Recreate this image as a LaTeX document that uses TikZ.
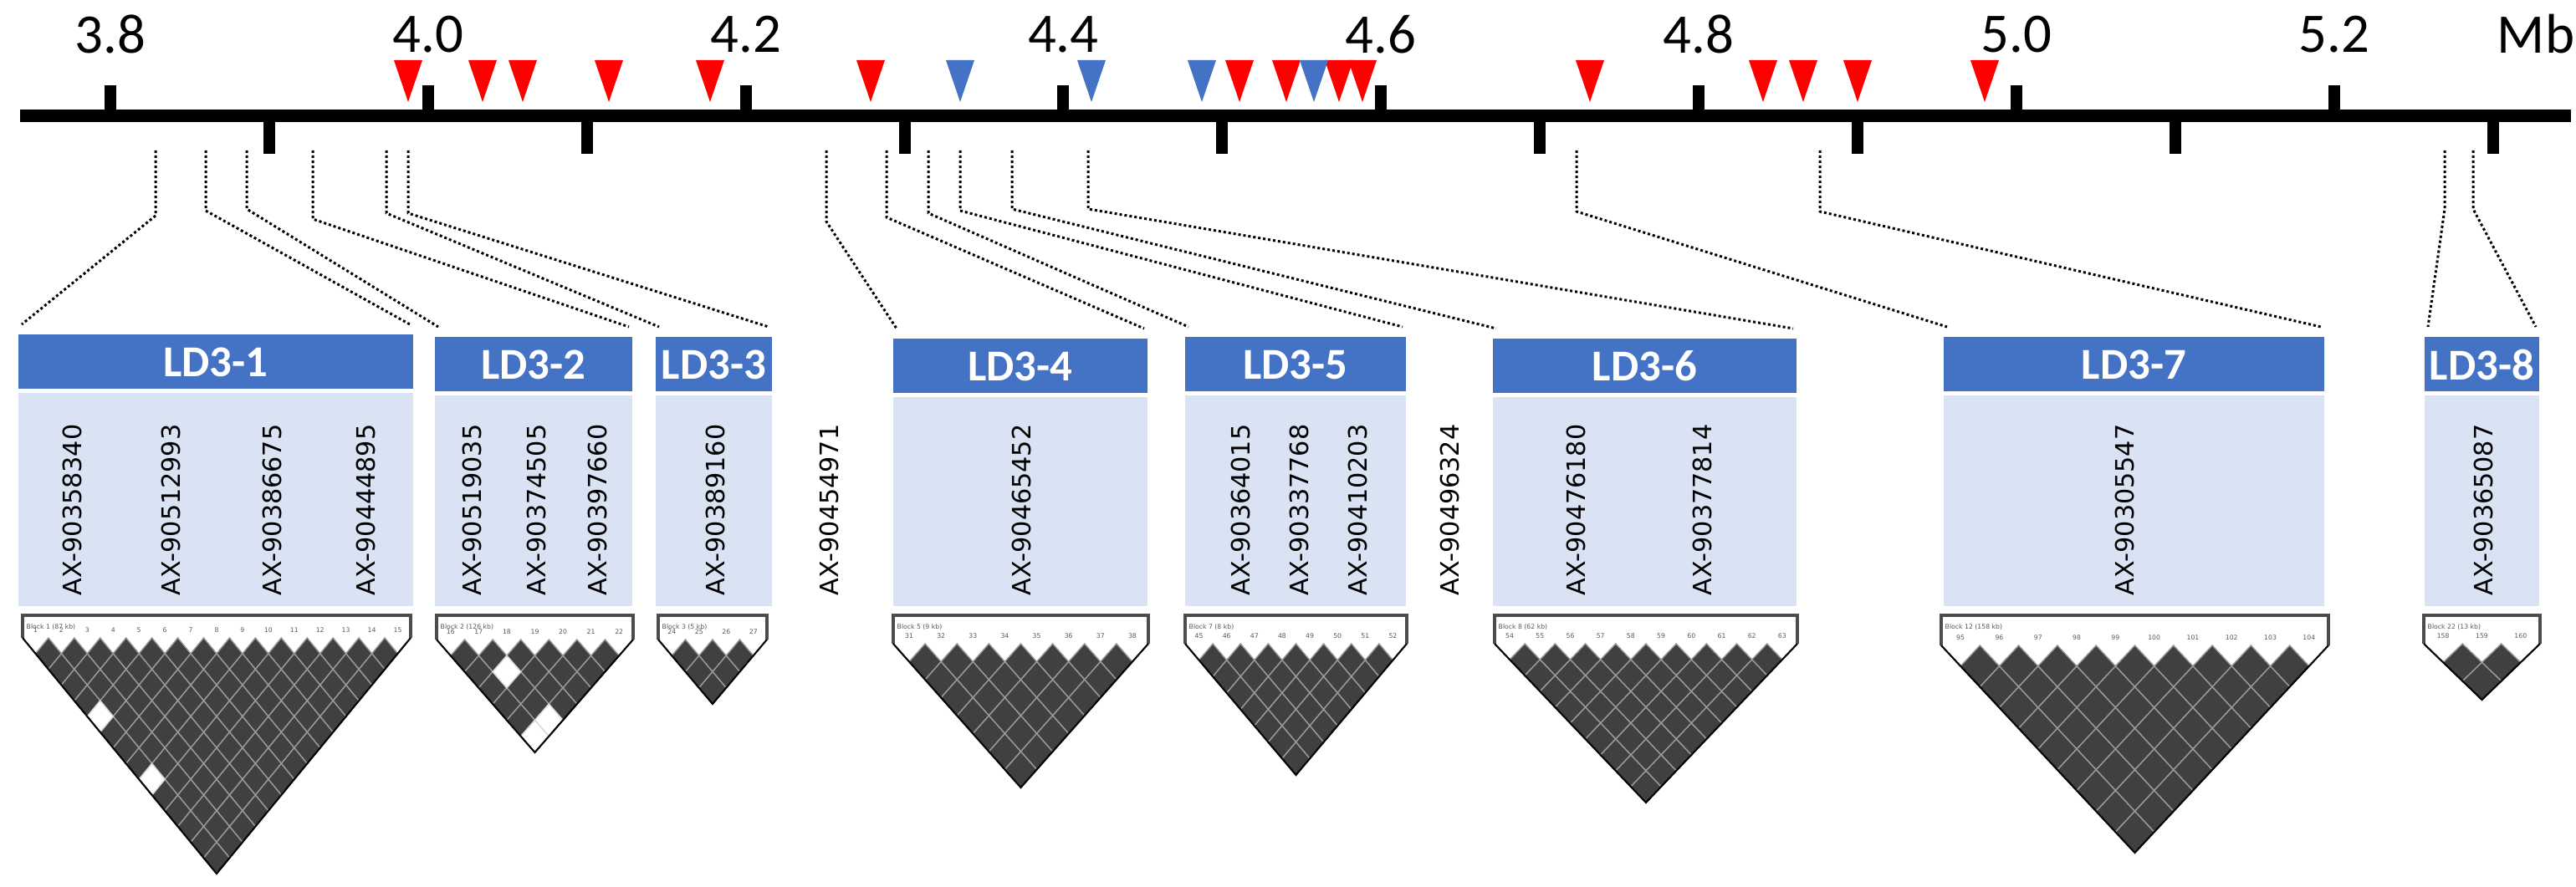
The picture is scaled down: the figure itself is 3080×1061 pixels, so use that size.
\documentclass[tikz,border=0pt]{standalone}
\usepackage{fontspec}
\setmainfont{DejaVu Sans}
\newfontfamily\calf{Carlito}
\definecolor{hdrblue}{HTML}{4472C4}
\definecolor{lightblue}{HTML}{DAE3F3}
\definecolor{ldgray}{HTML}{404040}
\definecolor{mkred}{HTML}{FF0000}
\newcommand\mypx{0.2845pt}
\tikzset{
  axisln/.style={line width=15*\mypx, black},
  tickln/.style={line width=14*\mypx, black},
  ticklab/.style={font=\calf\fontsize{19}{19}\selectfont, inner sep=0pt},
  hdrtext/.style={font=\calf\bfseries\fontsize{15}{15}\selectfont, text=white, inner sep=0pt},
  snp/.style={font=\fontsize{8.6}{8.6}\selectfont, rotate=90, anchor=west, inner sep=0pt},
  conn/.style={line width=3*\mypx, dash pattern=on 3*\mypx off 3*\mypx, black},
  ldcell/.style={fill=ldgray, draw=gray!80, line width=0.4pt},
  ldnum/.style={font=\fontsize{2.2}{2.2}\selectfont, inner sep=0pt, text=gray!70!black},
}
% marker triangle: x, colour
\newcommand\mk[2]{\fill[#2] (#1-17,72) -- (#1+17,72) -- (#1,122) -- cycle;}
% LD plot: L R T S A n firstnum label whites
\newcommand\ldplot[9]{%
  \pgfmathsetmacro\ldw{(#2-#1)/#6}%
  \pgfmathsetmacro\ldh{(#5-#4)/#6}%
  \pgfmathtruncatemacro\ldm{#6-1}%
  \fill[white] (#1,#3) rectangle (#2,#4);
  \foreach \d in {1,...,\ldm}{%
    \pgfmathtruncatemacro\ldk{#6-\d}%
    \foreach \i in {1,...,\ldk}{%
      \path[ldcell] ({#1+\ldw/2+(\i-1)*\ldw+\d*\ldw/2},{#4+\d*\ldh}) +(0,-\ldh) -- +(\ldw/2,0) -- +(0,\ldh) -- +(-\ldw/2,0) -- cycle;
    }
  }
  \foreach \i/\d in {#9}{%
    \path[fill=white, draw=gray!30, line width=0.4pt] ({#1+\ldw/2+(\i-1)*\ldw+\d*\ldw/2},{#4+\d*\ldh}) +(0,-\ldh) -- +(\ldw/2,0) -- +(0,\ldh) -- +(-\ldw/2,0) -- cycle;
  }
  \foreach \i in {1,...,#6}{%
    \pgfmathtruncatemacro\ldn{#7+\i-1}%
    \node[ldnum] at ({#1+\ldw/2+(\i-1)*\ldw},{#4-9}) {\ldn};
  }
  \node[ldnum, anchor=west] at (#1+4,#3+14) {#8};
  \draw[gray!60!black, line width=1.2pt] (#1,#4) -- (#1,#3) -- (#2,#3) -- (#2,#4);
  \draw[black, line width=0.6pt] (#1,#4) -- ({(#1+#2)/2},#5) -- (#2,#4);
}
\begin{document}
\begin{tikzpicture}[x=0.01cm,y=-0.01cm]
\useasboundingbox (0,0) rectangle (3080,1061);
% axis
\draw[axisln] (24,139) -- (3074,139);
\foreach \v/\lab in {3.8/3.8,4.0/4.0,4.2/4.2,4.4/4.4,4.6/4.6,4.8/4.8,5.0/5.0,5.2/5.2}{
  \pgfmathsetmacro\xx{132+(\v-3.8)*1899}
  \draw[tickln] (\xx,102) -- (\xx,139);
  \node[ticklab] at (\xx,41) {\lab};
}
\foreach \v in {3.9,4.1,4.3,4.5,4.7,4.9,5.1,5.3}{
  \pgfmathsetmacro\xx{132+(\v-3.8)*1899}
  \draw[tickln] (\xx,139) -- (\xx,184);
}
\node[ticklab] (mb) at (3032,41) {Mb};
% markers
\foreach \x in {488,577,625,728,849,1041,1482,1538,1601,1629,1901,2108,2156,2221,2373}{\mk{\x}{mkred}}
\foreach \x in {1148,1305,1437,1571}{\mk{\x}{hdrblue}}
% headers and light boxes
\foreach \nm/\l/\r/\t/\lab in {1/22/494/400/LD3-1, 2/520/756/403/LD3-2, 3/784/923/403/LD3-3, 4/1068/1372/405/LD3-4, 5/1417/1681/403/LD3-5, 6/1785/2148/405/LD3-6, 7/2324/2779/403/LD3-7, 8/2899/3036/403/LD3-8}{
  \fill[lightblue] (\l,\t+70) rectangle (\r,725);
  \fill[hdrblue] (\l,\t) rectangle (\r,\t+65);
  \node[hdrtext] (h\nm) at ({(\l+\r)/2},\t+33) {\lab};
  \coordinate (h\nm l) at (\l+4,\t-12);
  \coordinate (h\nm r) at (\r-4,\t-12);
}
% SNP labels
\foreach \x/\lab in {86/AX-90358340, 204/AX-90512993, 325/AX-90386675, 437/AX-90444895,
  564/AX-90519035, 641/AX-90374505, 714/AX-90397660, 855/AX-90389160,
  991/AX-90454971, 1221/AX-90465452, 1483/AX-90364015, 1553/AX-90337768, 1623/AX-90410203,
  1733/AX-90496324, 1884/AX-90476180, 2035/AX-90377814, 2540/AX-90305547, 2969/AX-90365087}{
  \node[snp] at (\x,713) {\lab};
}
% connectors
\foreach \k/\x/\yb/\tgt in {1/186/258/h1l, 2/246/252/h1r, 3/295/250/h2l, 4/374/262/h2r, 5/462/255/h3l, 6/488/255/h3r,
  7/988/265/h4l, 8/1060/260/h4r, 9/1110/255/h5l, 10/1148/252/h5r, 11/1210/250/h6l, 12/1301/250/h6r,
  13/1885/253/h7l, 14/2176/253/h7r, 15/2923/250/h8l, 16/2957/250/h8r}{
  \coordinate (c\k a) at (\x,180);
  \coordinate (c\k b) at (\x,\yb);
  \draw[conn] (c\k a) -- (c\k b) -- (\tgt);
}
% LD plots
\ldplot{27}{491}{736}{763}{1045}{15}{1}{Block 1 (87 kb)}{1/5,1/9}
\ldplot{522}{757}{736}{765}{900}{7}{16}{Block 2 (126 kb)}{2/2,2/5,1/6}
\ldplot{787}{917}{736}{765}{842}{4}{24}{Block 3 (5 kb)}{}
\ldplot{1068}{1373}{736}{770}{942}{8}{31}{Block 5 (9 kb)}{}
\ldplot{1417}{1682}{736}{770}{927}{8}{45}{Block 7 (8 kb)}{}
\ldplot{1787}{2149}{736}{770}{960}{10}{54}{Block 8 (62 kb)}{}
\ldplot{2321}{2784}{736}{772}{1020}{10}{95}{Block 12 (158 kb)}{}
\ldplot{2898}{3037}{736}{770}{837}{3}{158}{Block 22 (13 kb)}{}
\end{tikzpicture}
\end{document}
